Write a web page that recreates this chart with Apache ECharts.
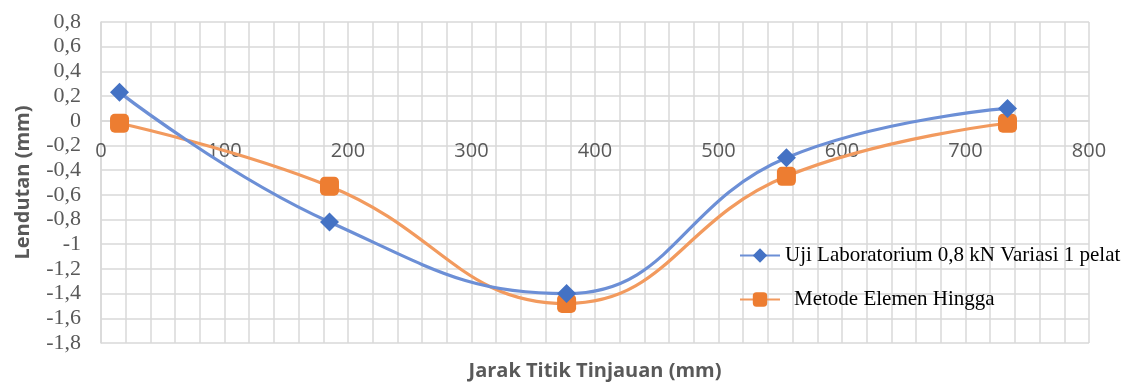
<!DOCTYPE html>
<html>
<head>
<meta charset="utf-8">
<script src="https://cdn.jsdelivr.net/npm/echarts@6/dist/echarts.min.js"></script>
<style>
  html, body { margin: 0; padding: 0; background: #fff; }
  #chart { width: 1123px; height: 383px; }
</style>
</head>
<body>
<div id="chart"></div>
<script>
// Distance of each observation point (mm)
const jarak = [15, 185, 377, 555, 734];
// Deflection measured in the laboratory (mm)
const ujiLab = [0.23, -0.82, -1.40, -0.30, 0.10];
// Deflection from finite element method (mm)
const metodeElemen = [-0.02, -0.53, -1.48, -0.45, -0.02];

const seriesNames = ['Uji Laboratorium 0,8 kN Variasi 1 pelat', 'Metode Elemen Hingga'];
const xTitle = 'Jarak Titik Tinjauan (mm)';
const yTitle = 'Lendutan (mm)';

const pairs = (xs, ys) => xs.map((x, i) => [x, ys[i]]);
const fmtComma = v => {
  const r = Math.round(v * 10) / 10;
  return String(r).replace('.', ',');
};

const W = 1123, H = 383;
const grid = { left: 101, right: 34, top: 22, bottom: 40 };
const yMin = -1.8, yMax = 0.8;
// The x axis crosses the y axis at zero: shift it up from the grid bottom
const gridH = H - grid.top - grid.bottom;
const zeroShift = gridH * (0 - yMin) / (yMax - yMin);

const gridColor = '#d9d9d9';
const chart = echarts.init(document.getElementById('chart'), null, { renderer: 'canvas' });

chart.setOption({
  animation: false,
  backgroundColor: '#ffffff',
  grid: Object.assign({ containLabel: false, outerBoundsMode: 'none' }, grid),
  xAxis: {
    type: 'value',
    position: 'bottom',
    offset: -zeroShift,
    min: 0, max: 800, interval: 100,
    name: xTitle,
    nameLocation: 'middle',
    nameGap: zeroShift + 18,
    nameMoveOverlap: false,
    nameTextStyle: { fontFamily: 'Open Sans', fontWeight: 'bold', fontSize: 20, color: '#595959' },
    axisLine: { show: true, onZero: false, lineStyle: { color: gridColor, width: 1.5 } },
    axisTick: { show: false },
    axisLabel: { fontFamily: 'Open Sans', fontSize: 20, color: '#595959', margin: 21 },
    splitLine: { show: true, lineStyle: { color: gridColor, width: 1.5 } },
    minorTick: { show: false, splitNumber: 5 },
    minorSplitLine: { show: true, lineStyle: { color: gridColor, width: 1.5 } }
  },
  yAxis: {
    type: 'value',
    min: yMin, max: yMax, interval: 0.2,
    name: yTitle,
    nameLocation: 'middle',
    nameGap: 68,
    nameRotate: 90,
    nameMoveOverlap: false,
    nameTextStyle: { fontFamily: 'Open Sans', fontWeight: 'bold', fontSize: 20, color: '#595959' },
    axisLine: { show: true, onZero: false, lineStyle: { color: gridColor, width: 1.5 } },
    axisTick: { show: false },
    axisLabel: { fontFamily: 'Liberation Serif', fontSize: 22, color: '#595959', margin: 20, formatter: fmtComma },
    splitLine: { show: true, lineStyle: { color: gridColor, width: 1.5 } }
  },
  legend: {
    orient: 'vertical',
    left: 734,
    top: 240,
    itemWidth: 40,
    itemHeight: 18,
    itemGap: 23,
    textStyle: { fontFamily: 'Liberation Serif', fontSize: 21, color: '#000000', overflow: 'none' },
    data: [
      { name: seriesNames[0] },
      { name: seriesNames[1], textStyle: { padding: [0, 0, 0, 9] } }
    ]
  },
  series: [
    {
      name: seriesNames[0],
      type: 'line',
      data: pairs(jarak, ujiLab),
      smooth: 0.45,
      symbol: 'diamond',
      symbolSize: 19,
      lineStyle: { color: '#6c8fd6', width: 3.2 },
      itemStyle: { color: '#4472C4' },
      z: 3
    },
    {
      name: seriesNames[1],
      type: 'line',
      data: pairs(jarak, metodeElemen),
      smooth: 0.45,
      symbol: 'roundRect',
      symbolSize: 19,
      lineStyle: { color: '#f29a5e', width: 3.2 },
      itemStyle: { color: '#ED7D31' },
      z: 2
    }
  ]
});
</script>
</body>
</html>
